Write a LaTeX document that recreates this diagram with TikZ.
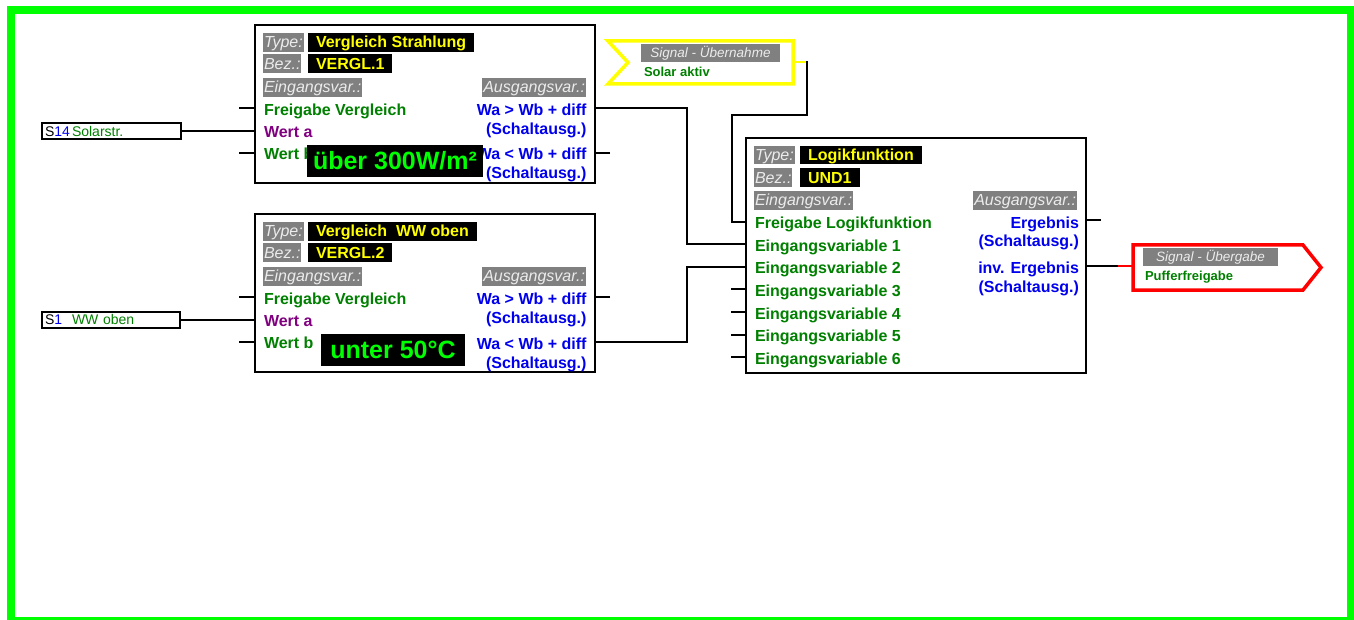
\documentclass[tikz,border=0pt]{standalone}
\usepackage{fontspec}
\setmainfont{Liberation Sans}
\usetikzlibrary{positioning,calc}

\definecolor{framegreen}{RGB}{0,255,0}
\definecolor{vargreen}{RGB}{0,128,0}
\definecolor{varpurple}{RGB}{128,0,128}
\definecolor{varblue}{RGB}{0,0,238}
\definecolor{lblgray}{RGB}{128,128,128}
\definecolor{sigyellow}{RGB}{255,255,0}
\definecolor{sigred}{RGB}{255,0,0}

\begin{document}
\begin{tikzpicture}[x=1pt, y=-1pt, line width=2pt,
  every node/.style={inner sep=0pt, font=\fontsize{16}{19}\selectfont\bfseries},
  block/.style={draw, fill=white, minimum width=340pt},
  lbl/.style={fill=lblgray, text=white!85!lblgray, inner xsep=1pt, inner ysep=0.5pt, text height=14.5pt, text depth=3.2pt, font=\fontsize{16}{19}\selectfont\itshape},
  val/.style={anchor=base west, fill=black, text=sigyellow, inner xsep=8pt, inner ysep=0.5pt, text height=14.5pt, text depth=3.2pt},
  ein/.style={anchor=base west, text=vargreen},
  aus/.style={anchor=base east, text=varblue},
  hint/.style={fill=black, text=framegreen, minimum height=32pt, font=\fontsize{25}{30}\selectfont\bfseries},
  sensor/.style={draw, fill=white, minimum height=16pt, inner xsep=3pt, align=left, font=\fontsize{14}{16}\selectfont},
  flag/.style={line width=3.5pt, line join=miter},
  siglbl/.style={lbl, inner ysep=1pt, text height=12.5pt, text depth=3.5pt, font=\fontsize{13.5}{16}\selectfont\itshape},
  sigtxt/.style={anchor=base west, text=vargreen, font=\fontsize{13}{16}\selectfont\bfseries}]
\useasboundingbox (0,0) rectangle (1354,620);
\draw[framegreen, line width=8pt] (11,10) rectangle (1351,621);

% Comparator 1
\node (vergl1) [block, minimum height=158pt] at (425,104) {};
\node (v1type) [lbl, anchor=base west] at (262,48) {Type:};
\node (v1typeval) [val] at (307,48) {Vergleich Strahlung};
\node (v1bez) [lbl, anchor=base west] at (262,69.5) {Bez.:};
\node (v1bezval) [val] at (307,69.5) {VERGL.1};
\node (v1ein) [lbl, anchor=base west] at (262,93) {Eingangsvar.:};
\node (v1aus) [lbl, anchor=base east] at (587,93) {Ausgangsvar.:};
\node (v1frei) [ein] at (263,115.5) {Freigabe Vergleich};
\node (v1werta) [ein, text=varpurple] at (263,137.5) {Wert a};
\node (v1wertb) [ein] at (263,159.5) {Wert b};
\node (v1gr) [aus] at (587.5,115.5) {Wa > Wb + diff};
\node (v1grs) [aus] at (587.5,134.5) {(Schaltausg.)};
\node (v1kl) [aus] at (587.5,160) {Wa < Wb + diff};
\node (v1kls) [aus] at (587.5,179) {(Schaltausg.)};
\node (v1hint) [hint, minimum width=176.5pt] at (395,161) {über 300W/m²};

% Comparator 2
\node (vergl2) [block, minimum height=158pt, below=29pt of vergl1] {};
\node (v2type) [lbl, anchor=base west] at (262,237) {Type:};
\node (v2typeval) [val] at (307,237) {Vergleich\ \ WW oben};
\node (v2bez) [lbl, anchor=base west] at (262,258.5) {Bez.:};
\node (v2bezval) [val] at (307,258.5) {VERGL.2};
\node (v2ein) [lbl, anchor=base west] at (262,282) {Eingangsvar.:};
\node (v2aus) [lbl, anchor=base east] at (587,282) {Ausgangsvar.:};
\node (v2frei) [ein] at (263,304.5) {Freigabe Vergleich};
\node (v2werta) [ein, text=varpurple] at (263,326.5) {Wert a};
\node (v2wertb) [ein] at (263,348.5) {Wert b};
\node (v2gr) [aus] at (587.5,304.5) {Wa > Wb + diff};
\node (v2grs) [aus] at (587.5,323.5) {(Schaltausg.)};
\node (v2kl) [aus] at (587.5,349) {Wa < Wb + diff};
\node (v2kls) [aus] at (587.5,368) {(Schaltausg.)};
\node (v2hint) [hint, minimum width=144pt] at (393,350) {unter 50°C};

% Logic block
\node (und1) [block, minimum height=235pt] at (916,255.5) {};
\node (u1type) [lbl, anchor=base west] at (753,160.7) {Type:};
\node (u1typeval) [val] at (799,160.7) {Logikfunktion};
\node (u1bez) [lbl, anchor=base west] at (753,183.3) {Bez.:};
\node (u1bezval) [val] at (799,183.3) {UND1};
\node (u1ein) [lbl, anchor=base west] at (753,206) {Eingangsvar.:};
\node (u1aus) [lbl, anchor=base east] at (1078,206) {Ausgangsvar.:};
\node (u1frei) [ein] at (754,229) {Freigabe Logikfunktion};
\node (u1var1) [ein] at (754,251.7) {Eingangsvariable 1};
\node (u1var2) [ein] at (754,274) {Eingangsvariable 2};
\node (u1var3) [ein] at (754,296.7) {Eingangsvariable 3};
\node (u1var4) [ein] at (754,319) {Eingangsvariable 4};
\node (u1var5) [ein] at (754,341.7) {Eingangsvariable 5};
\node (u1var6) [ein] at (754,364.3) {Eingangsvariable 6};
\node (u1erg) [aus] at (1080,229) {Ergebnis};
\node (u1ergs) [aus] at (1080,246.7) {(Schaltausg.)};
\node (u1inv) [aus] at (1080,273.3) {inv. Ergebnis};
\node (u1invs) [aus] at (1080,292.7) {(Schaltausg.)};

% Sensors
\node (s14) [sensor, text width=133pt] at (111.5,131) {\makebox[27pt][l]{S\textcolor{varblue}{14}}\textcolor{vargreen}{Solarstr.}};
\node (s1) [sensor, text width=132pt] at (111,319.5) {\makebox[27pt][l]{S\textcolor{varblue}{1}}\textcolor{vargreen}{WW oben}};

% Signal flags
\draw[flag, sigyellow] (608,41) -- (793,41) -- (793,84) -- (608,84) -- (628,62.5) -- cycle;
\coordinate (sigin) at (794.5,62.5);
\node (siginlbl) [siglbl, minimum width=139pt] at (710.5,53) {Signal - Übernahme};
\node (sigintxt) [sigtxt] at (643,76.5) {Solar aktiv};
\draw[flag, sigred] (1133,245) -- (1303,245) -- (1321,267.5) -- (1303,290) -- (1133,290) -- cycle;
\coordinate (sigout) at (1131.5,266);
\node (sigoutlbl) [siglbl, minimum width=135pt] at (1210.5,257) {Signal - Übergabe};
\node (sigouttxt) [sigtxt] at (1144,280) {Pufferfreigabe};

% Open stubs
\coordinate (v1in1) at (239,108);
\coordinate (v1in3) at (239,153);
\coordinate (v1out2) at (610,153);
\coordinate (v2in1) at (239,297);
\coordinate (v2in3) at (239,342);
\coordinate (v2out1) at (610,297);
\coordinate (u1out1) at (1101,220);
\draw (v1in1) -- (v1in1 -| vergl1.west);
\draw (v1in3) -- (v1in3 -| vergl1.west);
\draw (v1out2) -- (v1out2 -| vergl1.east);
\draw (v2in1) -- (v2in1 -| vergl2.west);
\draw (v2in3) -- (v2in3 -| vergl2.west);
\draw (v2out1) -- (v2out1 -| vergl2.east);
\draw (u1out1) -- (u1out1 -| und1.east);
\foreach \y in {289,312,335,357} {
  \coordinate (u1in\y) at (731,\y);
  \draw (u1in\y) -- (u1in\y -| und1.west);
}

% Connections
\coordinate (u1en) at (und1.west |- 0,222);
\coordinate (u1ev1) at (und1.west |- 0,244);
\coordinate (u1ev2) at (und1.west |- 0,267);
\draw (s14) -- (s14 -| vergl1.west);
\draw (s1) -- (s1 -| vergl2.west);
\draw (vergl1.east |- 0,108) -- ++(91,0) |- (u1ev1);
\draw (vergl2.east |- 0,342) -- ++(91,0) |- (u1ev2);
\draw[sigyellow] (sigin) -- ++(12,0) coordinate (sigknee);
\draw (sigknee) ++(0,-1) |- ++(-75,54) |- (u1en);
\draw (und1.east |- 0,266) -- ++(31,0) coordinate (redknee);
\draw[sigred] (redknee) -- (sigout);
\end{tikzpicture}
\end{document}
